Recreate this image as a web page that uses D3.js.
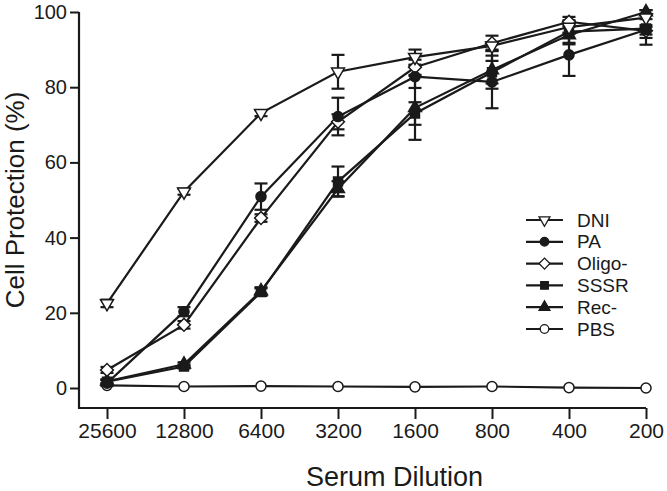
<!DOCTYPE html>
<html>
<head>
<meta charset="utf-8">
<script src="https://cdn.jsdelivr.net/npm/d3@7"></script>
<style>
  html, body { margin: 0; padding: 0; background: #fff; }
  svg { display: block; font-family: "Liberation Sans", Arial, Helvetica, sans-serif; }
</style>
</head>
<body>
<svg id="chart" width="667" height="491"></svg>
<script>
// ---- data ----
const dilutions = ["25600", "12800", "6400", "3200", "1600", "800", "400", "200"];
const yTicks = [0, 20, 40, 60, 80, 100];
const seriesNames = ["DNI", "PA", "Oligo-", "SSSR", "Rec-", "PBS"];

const dniValues   = [22.5, 52.2, 73.1, 84.1, 88.0, 91.0, 96.0, 98.5];
const dniErrors   = [1.0, 0.8, 0.8, 4.5, 2.0, 1.0, 1.5, 2.0];
const paValues    = [1.3, 20.3, 50.9, 72.2, 82.8, 81.4, 88.6, 95.3];
const paErrors    = [0.8, 1.2, 3.5, 5.0, 3.0, 7.0, 5.6, 4.0];
const oligoValues = [4.8, 16.8, 45.2, 70.8, 85.3, 91.7, 97.4, 95.0];
const oligoErrors = [0.8, 1.0, 1.0, 2.0, 2.0, 2.0, 1.3, 1.0];
const sssrValues  = [1.7, 5.7, 25.5, 54.9, 73.0, 84.0, 94.8, 95.6];
const sssrErrors  = [0.5, 0.5, 1.0, 4.0, 3.0, 3.0, 3.0, 2.5];
const recValues   = [1.8, 6.3, 25.8, 53.0, 74.5, 84.6, 93.9, 100.0];
const recErrors   = [0.5, 0.5, 1.0, 2.0, 8.5, 5.0, 2.5, 0.5];
const pbsValues   = [0.7, 0.4, 0.5, 0.4, 0.3, 0.4, 0.1, 0.0];
const pbsErrors   = [0, 0, 0, 0, 0, 0, 0, 0];

const series = [
  { name: "PBS",    values: pbsValues,   errors: pbsErrors,   symbol: "circle",   filled: false },
  { name: "Rec-",   values: recValues,   errors: recErrors,   symbol: "triUp",    filled: true },
  { name: "SSSR",   values: sssrValues,  errors: sssrErrors,  symbol: "square",   filled: true },
  { name: "Oligo-", values: oligoValues, errors: oligoErrors, symbol: "diamond",  filled: false },
  { name: "PA",     values: paValues,    errors: paErrors,    symbol: "circle",   filled: true },
  { name: "DNI",    values: dniValues,   errors: dniErrors,   symbol: "triDown",  filled: false }
];

// ---- layout ----
const svg = d3.select("#chart");
const x = d3.scalePoint().domain(dilutions).range([107, 646]);
const y = d3.scaleLinear().domain([0, 100]).range([388, 12]);
const axisLeftX = 79;
const axisBottomY = 408;
const ink = "#1a1a1a";

function symbolPath(kind) {
  if (kind === "circle") return d3.symbol().type(d3.symbolCircle).size(80)();
  if (kind === "square") return d3.symbol().type(d3.symbolSquare).size(80)();
  if (kind === "diamond") return d3.symbol().type(d3.symbolSquare).size(82)();
  return d3.symbol().type(d3.symbolTriangle).size(72)();
}
function symbolRotate(kind) {
  if (kind === "diamond") return 45;
  if (kind === "triDown") return 180;
  return 0;
}

// ---- axes ----
const yAxis = d3.axisLeft(y).tickValues(yTicks).tickSize(9).tickPadding(3).tickSizeOuter(0);
const gy = svg.append("g").attr("transform", `translate(${axisLeftX},0)`).call(yAxis);
gy.select(".domain").remove();
gy.selectAll(".tick line").attr("stroke", ink).attr("stroke-width", 2);
gy.selectAll(".tick text").attr("fill", ink).attr("font-size", 20)
  .attr("font-family", "Liberation Sans, Arial, sans-serif");

const xAxis = d3.axisBottom(x).tickSize(11).tickPadding(4).tickSizeOuter(0);
const gx = svg.append("g").attr("transform", `translate(0,${axisBottomY})`).call(xAxis);
gx.select(".domain").remove();
gx.selectAll(".tick line").attr("stroke", ink).attr("stroke-width", 2);
gx.selectAll(".tick text").attr("fill", ink).attr("font-size", 21)
  .attr("font-family", "Liberation Sans, Arial, sans-serif");

// L-shaped frame
svg.append("path")
  .attr("d", `M${axisLeftX},${y(100)} L${axisLeftX},${axisBottomY} L${x(dilutions[dilutions.length - 1])},${axisBottomY}`)
  .attr("fill", "none").attr("stroke", ink).attr("stroke-width", 2.2);

// axis titles
svg.append("text")
  .attr("x", (axisLeftX + x(dilutions[dilutions.length - 1])) / 2 + 32)
  .attr("y", 486)
  .attr("text-anchor", "middle").attr("font-size", 27).attr("fill", ink)
  .text("Serum Dilution");
svg.append("text")
  .attr("transform", `translate(24,${y(50) - 0}) rotate(-90)`)
  .attr("text-anchor", "middle").attr("font-size", 26).attr("fill", ink)
  .text("Cell Protection (%)");

// ---- lines ----
const line = d3.line().x((d, i) => x(dilutions[i])).y(d => y(d));
const plot = svg.append("g");
series.forEach(s => {
  plot.append("path").datum(s.values)
    .attr("d", line).attr("fill", "none")
    .attr("stroke", ink).attr("stroke-width", 2.2);
});

// ---- error bars ----
series.forEach(s => {
  s.values.forEach((v, i) => {
    const e = s.errors[i];
    if (!e) return;
    const cx = x(dilutions[i]);
    const g = plot.append("g").attr("stroke", ink).attr("stroke-width", 2.2);
    g.append("line").attr("x1", cx).attr("x2", cx).attr("y1", y(v + e)).attr("y2", y(v - e));
    g.append("line").attr("x1", cx - 6.5).attr("x2", cx + 6.5).attr("y1", y(v + e)).attr("y2", y(v + e));
    g.append("line").attr("x1", cx - 6.5).attr("x2", cx + 6.5).attr("y1", y(v - e)).attr("y2", y(v - e));
  });
});

// ---- markers ----
series.forEach(s => {
  plot.selectAll(null).data(s.values).enter().append("path")
    .attr("d", symbolPath(s.symbol))
    .attr("transform", (d, i) => `translate(${x(dilutions[i])},${y(d)}) rotate(${symbolRotate(s.symbol)})`)
    .attr("fill", s.filled ? ink : "#fff")
    .attr("stroke", ink).attr("stroke-width", 1.5);
});

// ---- legend ----
const legendOrder = seriesNames.map(n => series.find(s => s.name === n));
const legend = svg.append("g").attr("transform", "translate(526,220)");
legendOrder.forEach((s, i) => {
  const g = legend.append("g").attr("transform", `translate(0,${i * 21.8})`);
  g.append("line").attr("x1", 0).attr("x2", 37).attr("y1", 0).attr("y2", 0)
    .attr("stroke", ink).attr("stroke-width", 2.2);
  g.append("path").attr("d", symbolPath(s.symbol))
    .attr("transform", `translate(18.5,0) rotate(${symbolRotate(s.symbol)}) scale(0.85)`)
    .attr("fill", s.filled ? ink : "#fff").attr("stroke", ink).attr("stroke-width", 1.5);
  g.append("text").attr("x", 51).attr("y", 0).attr("dy", "0.35em")
    .attr("font-size", 19).attr("fill", ink).text(s.name);
});
</script>
</body>
</html>
